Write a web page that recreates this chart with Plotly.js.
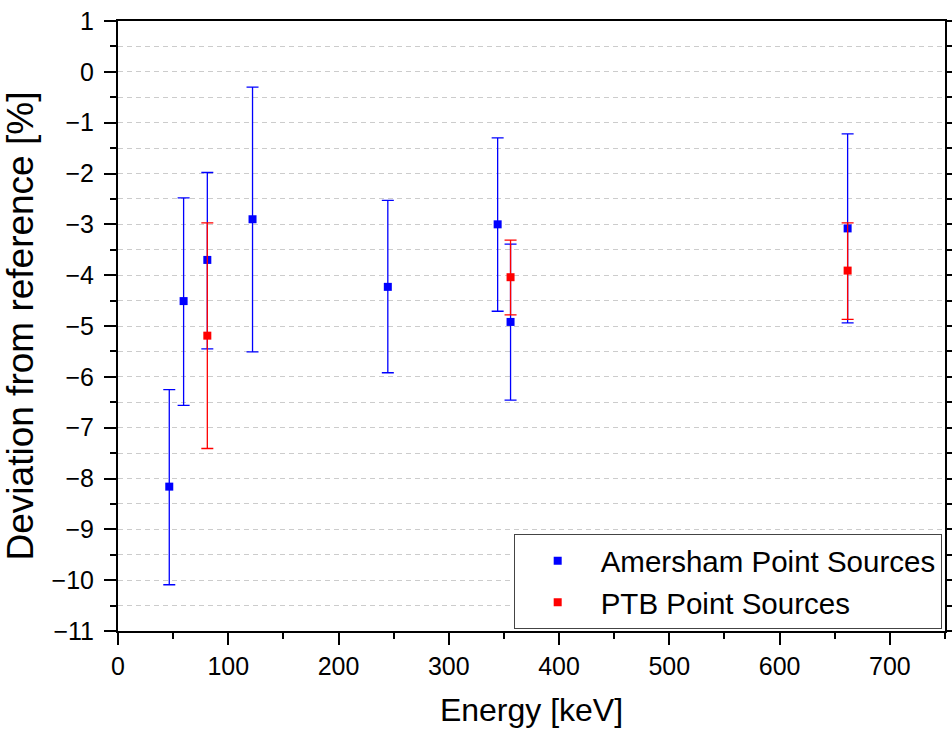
<!DOCTYPE html>
<html>
<head>
<meta charset="utf-8">
<script src="https://cdn.plot.ly/plotly-3.0.1.min.js"></script>
<style>html,body{margin:0;padding:0;background:#fff;}#chart{width:952px;height:736px;}</style>
</head>
<body>
<div id="chart"></div>
<script>
// Amersham point sources
const amershamEnergy = [46.5, 59.5, 81, 122, 244.7, 344.3, 356, 661.7];
const amershamDev    = [-8.16, -4.51, -3.70, -2.90, -4.23, -3.00, -4.92, -3.08];
const amershamErrUp  = [1.91, 2.03, 1.72, 2.60, 1.70, 1.70, 1.53, 1.86];
const amershamErrDn  = [1.93, 2.05, 1.75, 2.61, 1.69, 1.71, 1.54, 1.86];
// PTB point sources
const ptbEnergy = [81, 356, 661.7];
const ptbDev    = [-5.19, -4.04, -3.91];
const ptbErrUp  = [2.22, 0.73, 0.94];
const ptbErrDn  = [2.22, 0.74, 0.96];

const FONT = 'Liberation Sans, Arial, sans-serif';

const traces = [
  {
    type: 'scatter', mode: 'markers', name: 'Amersham Point Sources',
    x: amershamEnergy, y: amershamDev,
    marker: {symbol: 'square', size: 8, color: '#0000ff'},
    error_y: {type: 'data', symmetric: false, array: amershamErrUp, arrayminus: amershamErrDn,
              color: '#0000ff', thickness: 1.3, width: 6}
  },
  {
    type: 'scatter', mode: 'markers', name: 'PTB Point Sources',
    x: ptbEnergy, y: ptbDev,
    marker: {symbol: 'square', size: 8, color: '#ff0000'},
    error_y: {type: 'data', symmetric: false, array: ptbErrUp, arrayminus: ptbErrDn,
              color: '#ff0000', thickness: 1.3, width: 6}
  }
];

const layout = {
  width: 952, height: 736,
  margin: {l: 118, r: 7, t: 21, b: 105},
  paper_bgcolor: '#ffffff', plot_bgcolor: '#ffffff',
  font: {family: FONT, color: '#000'},
  showlegend: true,
  legend: {
    x: 0.996, y: 0.003, xanchor: 'right', yanchor: 'bottom',
    bgcolor: '#ffffff', bordercolor: '#444', borderwidth: 1,
    font: {family: FONT, size: 29.5, color: '#000'},
    itemwidth: 76, tracegroupgap: 0
  },
  xaxis: {
    range: [0, 750], dtick: 100, tick0: 0,
    showgrid: false, zeroline: false,
    showline: true, linecolor: '#000', linewidth: 2, mirror: true,
    ticks: 'outside', ticklen: 12, tickwidth: 2, tickcolor: '#000',
    minor: {dtick: 50, ticks: 'outside', ticklen: 6, tickwidth: 2, tickcolor: '#000', showgrid: false},
    tickfont: {family: FONT, size: 25, color: '#000'},
    title: {text: 'Energy [keV]', font: {family: FONT, size: 32, color: '#000'}, standoff: 20}
  },
  yaxis: {
    range: [-11, 1], dtick: 1, tick0: 0,
    showgrid: true, gridcolor: '#cccccc', gridwidth: 1, griddash: '5px,4px',
    zeroline: false,
    showline: true, linecolor: '#000', linewidth: 2, mirror: 'ticks',
    ticks: 'outside', ticklen: 12, tickwidth: 2, tickcolor: '#000',
    ticklabelstandoff: 5,
    minor: {dtick: 0.5, ticks: 'outside', ticklen: 6, tickwidth: 2, tickcolor: '#000',
            showgrid: true, gridcolor: '#cccccc', gridwidth: 1, griddash: '5px,4px'},
    tickfont: {family: FONT, size: 25, color: '#000'},
    title: {text: 'Deviation from reference [%]', font: {family: FONT, size: 37, color: '#000'}, standoff: 8}
  }
};

Plotly.newPlot('chart', traces, layout, {displayModeBar: false, staticPlot: true});
</script>
</body>
</html>
